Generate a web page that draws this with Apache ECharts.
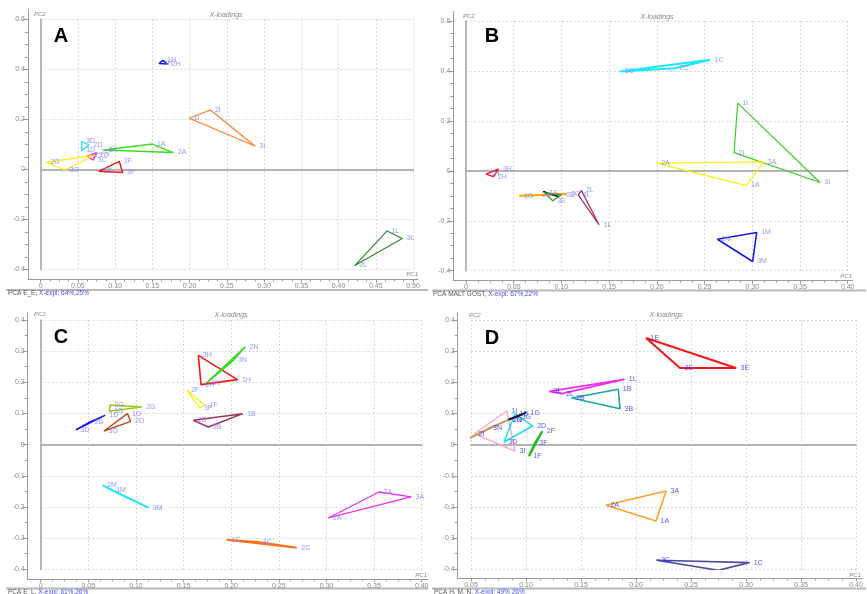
<!DOCTYPE html>
<html><head><meta charset="utf-8">
<script src="https://cdn.jsdelivr.net/npm/echarts@6/dist/echarts.min.js"></script>
<style>html,body{margin:0;padding:0;background:#fff}#c{width:867px;height:594px}</style>
</head><body><div id="c"></div><script>
// ---------------- DATA ----------------
// tick labels
const xTicksA = [0,0.05,0.10,0.15,0.20,0.25,0.30,0.35,0.40,0.45,0.50];
const xTicksB = [0,0.05,0.10,0.15,0.20,0.25,0.30,0.35,0.40];
const xTicksC = [0,0.05,0.10,0.15,0.20,0.25,0.30,0.35,0.40];
const xTicksD = [0.05,0.10,0.15,0.20,0.25,0.30,0.35,0.40];
const yTicksAB = [-0.4,-0.2,0,0.2,0.4,0.6];
const yTicksCD = [-0.4,-0.3,-0.2,-0.1,0,0.1,0.2,0.3,0.4];

// Panel A (PCA E_E) : triangles of loadings [PC1, PC2]
const aNames  = ['H','I','A','D','C','G','F','L'];
const aPoints = [
  [[0.159,0.423],[0.164,0.436],[0.170,0.421]],
  [[0.1995,0.204],[0.228,0.237],[0.2876,0.093]],
  [[0.085,0.077],[0.150,0.101],[0.178,0.067]],
  [[0.055,0.111],[0.055,0.075],[0.065,0.097]],
  [[0.0626,0.053],[0.075,0.067],[0.0707,0.037]],
  [[0.007,0.028],[0.0326,-0.003],[0.073,0.057]],
  [[0.078,-0.008],[0.1055,0.032],[0.110,-0.013]],
  [[0.465,-0.247],[0.4857,-0.277],[0.4217,-0.385]]
];
const aLabels = [
  ['3H','1H','2H'],['1I','2I','3I'],['3A','1A','2A'],['3D','1D','2D'],
  ['1C','2C','3C'],['2G','3G','1G'],['1F','2F','3F'],['1L','3L','2L']
];
const aColors = ['#1a1ae6','#ff7f27','#3ade1a','#1ee0f0','#f030f0','#ffee10','#f01818','#2a8a2a'];
const aWidths = [1.6,1.2,1.4,1.2,1.4,1.2,1.4,1.2];

// Panel B (PCA MALT GOST)
const bNames  = ['C','I','A','H','G','K','E','L','M'];
const bPoints = [
  [[0.1614,0.398],[0.2557,0.4446],[0.219,0.411]],
  [[0.2847,0.271],[0.2809,0.073],[0.371,-0.047]],
  [[0.1998,0.031],[0.3116,0.036],[0.294,-0.059]],
  [[0.021,-0.013],[0.034,0.007],[0.0286,-0.023]],
  [[0.056,-0.100],[0.1055,-0.093],[0.075,-0.098]],
  [[0.081,-0.083],[0.0968,-0.103],[0.090,-0.095]],
  [[0.0828,-0.0895],[0.0908,-0.120],[0.1003,-0.096]],
  [[0.1177,-0.096],[0.121,-0.079],[0.1394,-0.216]],
  [[0.2634,-0.274],[0.3046,-0.247],[0.3004,-0.363]]
];
const bLabels = [
  ['3C','1C','2C'],['1I','2I','3I'],['2A','3A','1A'],['1H','3H','2H'],
  ['1G','3G','2G'],['','',''],['1E','3E','2E'],['3L','2L','1L'],['2M','1M','3M']
];
const bColors = ['#1ee8f5','#3ccc2c','#ffee10','#f01818','#ffa500','#111111','#30a030','#a02860','#1a1ae6'];
const bWidths = [2,1.2,1.3,1.4,2,1.4,1.2,1.2,1.6];

// Panel C (PCA E_L)
const cNames  = ['H','N','F','B','G','O','D','M','A','C'];
const cPoints = [
  [[0.1655,0.2866],[0.1683,0.1925],[0.2065,0.2086]],
  [[0.1743,0.198],[0.2145,0.3134],[0.2023,0.2706]],
  [[0.1533,0.1765],[0.1666,0.1176],[0.1725,0.126]],
  [[0.1603,0.078],[0.2121,0.0995],[0.176,0.0567]],
  [[0.0728,0.127],[0.106,0.121],[0.0721,0.107]],
  [[0.0665,0.0439],[0.091,0.0995],[0.0945,0.0749]],
  [[0.0371,0.048],[0.0675,0.094],[0.0518,0.0727]],
  [[0.0651,-0.1305],[0.113,-0.2021],[0.0745,-0.1465]],
  [[0.302,-0.2353],[0.3552,-0.1519],[0.3888,-0.1679]],
  [[0.1953,-0.3048],[0.2688,-0.3305],[0.2285,-0.3123]]
];
const cLabels = [
  ['3H','2H','1H'],['1N','2N','3N'],['2F','3F','1F'],['2B','1B','3B'],['3G','2G','1G'],
  ['3O','1O','2O'],['3D','1D','2D'],['2M','3M','1M'],['1A','2A','3A'],['1C','2C','3C']
];
const cColors = ['#f01818','#3ad81a','#ffee10','#a03060','#99cc10','#b84a20','#1a1ae6','#1ee8f5','#f030f0','#ff7020'];
const cWidths = [1.6,1.6,1.3,1.5,1.5,1.4,1.6,1.8,1.3,2];

// Panel D (PCA H, M, N)
const dNames  = ['E','L','B','A','C','I','D','G','N','F'];
const dPoints = [
  [[0.2091,0.3422],[0.240,0.246],[0.2909,0.246]],
  [[0.1212,0.171],[0.1894,0.2096],[0.1324,0.1636]],
  [[0.1415,0.1497],[0.1839,0.1775],[0.1855,0.1155]],
  [[0.1727,-0.1947],[0.2273,-0.1487],[0.2182,-0.2449]],
  [[0.2188,-0.3711],[0.303,-0.3786],[0.2748,-0.4032]],
  [[0.053,0.035],[0.0825,0.108],[0.090,-0.0205]],
  [[0.080,0.0083],[0.090,0.0994],[0.1061,0.0597]],
  [[0.0839,0.080],[0.100,0.1026],[0.092,0.090]],
  [[0.0475,0.019],[0.0839,0.080],[0.066,0.052]],
  [[0.1148,0.0427],[0.1027,-0.0366],[0.108,0.004]]
];
const dLabels = [
  ['1E','2E','3E'],['3L','1L','2L'],['2B','1B','3B'],['2A','3A','1A'],['3C','1C','2C'],
  ['2I','1I','3I'],['3D','1D','2D'],['2G','1G','3G'],['1N','2N','3N'],['2F','1F','3F']
];
const dColors = ['#f01818','#f030f0','#20a8a8','#ffa030','#4a4aa0','#ffa8c8','#1ee0f0','#111111','#c8965a','#22bb22'];
const dWidths = [2,1.8,1.6,1.6,1.6,1.4,1.6,2,1.8,2.2];

// ---------------- LAYOUT ----------------
const panels = [
  {letter:'A', names:aNames, pts:aPoints, lbl:aLabels, col:aColors, wid:aWidths, xt:xTicksA, yt:yTicksAB,
   inner:{left:40.7, top:19.3, width:372.3, height:250}, frame:{left:28, top:9.5, right:418, bottom:279.5},
   xMinorStep:0.0125, yMinorStep:0.05, yDec:1, yLine:true, lblColor:'#7a7aff',
   foot:['PCA E_E, ','X-expl: 64%,25%'], footXY:[8,293.5], sepY:290, sepX:[6,428],
   pc2:[34,14], title:[226,15], pc1:[418,274], letterXY:[61,36]},
  {letter:'B', names:bNames, pts:bPoints, lbl:bLabels, col:bColors, wid:bWidths, xt:xTicksB, yt:yTicksAB,
   inner:{left:466, top:21, width:381.7, height:249.7}, frame:{left:453.3, top:11.5, right:852.7, bottom:280.7},
   xMinorStep:0.0125, yMinorStep:0.05, yDec:1, yLine:true, lblColor:'#7a7aff',
   foot:['PCA MALT GOST, ','X-expl: 67%,22%'], footXY:[433,294.5], sepY:290.5, sepX:[432,866],
   pc2:[463,16], title:[657,17], pc1:[852,276], letterXY:[492,36]},
  {letter:'C', names:cNames, pts:cPoints, lbl:cLabels, col:cColors, wid:cWidths, xt:xTicksC, yt:yTicksCD,
   inner:{left:40.7, top:320, width:381, height:249.3}, frame:{left:27.7, top:313, right:428, bottom:579.3},
   xMinorStep:0.0125, yMinorStep:0.05, yDec:1, yLine:true, lblColor:'#7a7aff',
   foot:['PCA E_L, ','X-expl: 61%,26%'], footXY:[8,592.5], sepY:588.5, sepX:[6,428],
   pc2:[34,314], title:[231,315], pc1:[427,575], letterXY:[61,337]},
  {letter:'D', names:dNames, pts:dPoints, lbl:dLabels, col:dColors, wid:dWidths, xt:xTicksD, yt:yTicksCD,
   inner:{left:471, top:320, width:385, height:249.3}, frame:{left:457.7, top:313, right:862, bottom:578.3},
   xMinorStep:0.0125, yMinorStep:0.05, yDec:1, yLine:false, lblColor:'#2a2aff',
   foot:['PCA H, M, N, ','X-expl: 49%,26%'], footXY:[434,592.5], sepY:588.5, sepX:[432,866],
   pc2:[469,315], title:[666,315], pc1:[861,575], letterXY:[492,338]}
];

const grid=[], xAxis=[], yAxis=[], series=[], graphic=[];
const axisGray = '#9a9a9a', labelGray = '#8a8a8a';
function rng(a,b,s){const out=[];for(let k=0;;k++){const v=Math.round((a+k*s)*1e6)/1e6; if(v>b+1e-9)break; out.push(v);}return out;}
function fmtX(v){return Math.abs(v)<1e-9?'0':v.toFixed(2);}

panels.forEach((p,i)=>{
  const gi=2*i, gf=2*i+1;
  const I=p.inner, F=p.frame;
  const x0=p.xt[0], x1=p.xt[p.xt.length-1], y0=p.yt[0], y1=p.yt[p.yt.length-1];
  grid.push({left:I.left, top:I.top, width:I.width, height:I.height});
  grid.push({left:F.left, top:F.top, width:F.right-F.left, height:F.bottom-F.top});
  const xs=(x1-x0)/I.width, ys=(y1-y0)/I.height;
  const fxMin=x0-(I.left-F.left)*xs, fxMax=x1+(F.right-(I.left+I.width))*xs;
  const fyMax=y1+(I.top-F.top)*ys, fyMin=y0-(F.bottom-(I.top+I.height))*ys;
  const xi=xAxis.length, yi=yAxis.length;
  xAxis.push({type:'value', gridIndex:gi, min:x0, max:x1, interval:p.xt[1]-p.xt[0],
    axisLabel:{show:false}, axisTick:{show:false},
    axisLine:{show:true, onZero:true, lineStyle:{color:'#b4b4b4', width:2}},
    splitLine:{show:true, lineStyle:{color:'#cdcdcd', width:1, type:[1.5,2.5]}}});
  yAxis.push({type:'value', gridIndex:gi, min:y0, max:y1, interval:p.yt[1]-p.yt[0],
    axisLabel:{show:false}, axisTick:{show:false},
    axisLine:{show:p.yLine, onZero:false, lineStyle:{color:'#a8a8a8', width:1.6}},
    splitLine:{show:true, lineStyle:{color:'#cdcdcd', width:1, type:[1.5,2.5]}}});
  xAxis.push({type:'value', gridIndex:gf, min:fxMin, max:fxMax, position:'bottom',
    axisLine:{show:true, onZero:false, lineStyle:{color:axisGray, width:1}},
    axisTick:{show:true, customValues:p.xt, length:3, lineStyle:{color:axisGray}},
    axisLabel:{show:true, customValues:p.xt, formatter:fmtX, fontSize:7, color:labelGray, margin:3, fontFamily:'Liberation Sans'},
    splitLine:{show:false}});
  yAxis.push({type:'value', gridIndex:gf, min:fyMin, max:fyMax, position:'left',
    axisLine:{show:true, onZero:false, lineStyle:{color:axisGray, width:1}},
    axisTick:{show:true, customValues:p.yt, length:5, lineStyle:{color:axisGray}},
    axisLabel:{show:true, customValues:p.yt, formatter:v=>Math.abs(v)<1e-9?'0':v.toFixed(p.yDec), fontSize:7, color:labelGray, margin:3, fontFamily:'Liberation Sans'},
    splitLine:{show:false}});
  xAxis.push({type:'value', gridIndex:gf, min:fxMin, max:fxMax, position:'bottom',
    axisLine:{show:false, onZero:false}, axisLabel:{show:false},
    axisTick:{show:true, customValues:rng(x0,x1,p.xMinorStep), length:2, lineStyle:{color:axisGray}},
    splitLine:{show:false}});
  yAxis.push({type:'value', gridIndex:gf, min:fyMin, max:fyMax, position:'left',
    axisLine:{show:false, onZero:false}, axisLabel:{show:false},
    axisTick:{show:true, customValues:rng(y0,y1,p.yMinorStep), length:3, lineStyle:{color:axisGray}},
    splitLine:{show:false}});
  p.pts.forEach((tri,k)=>{
    series.push({type:'line', name:p.letter+p.names[k], xAxisIndex:xi, yAxisIndex:yi,
      data:tri.concat([tri[0]]), symbol:'none', silent:true, animation:false,
      lineStyle:{color:p.col[k], width:p.wid[k]}, z:3});
    series.push({type:'scatter', name:p.letter+p.names[k]+'_lbl', xAxisIndex:xi, yAxisIndex:yi,
      data:tri.map((pt,j)=>({value:pt, name:p.lbl[k][j]})), symbolSize:1, silent:true, animation:false,
      itemStyle:{color:p.col[k]}, z:4,
      label:{show:true, position:'right', distance:4, formatter:d=>d.name, fontSize:7, color:p.lblColor, fontFamily:'Liberation Sans'}});
  });
  graphic.push({type:'text', style:{text:'PC2', x:p.pc2[0], y:p.pc2[1], font:'italic 6px Liberation Sans', fill:'#888', textAlign:'left', textVerticalAlign:'middle'}});
  graphic.push({type:'text', style:{text:'X-loadings', x:p.title[0], y:p.title[1], font:'italic 7px Liberation Sans', fill:'#888', textAlign:'center', textVerticalAlign:'middle'}});
  graphic.push({type:'text', style:{text:'PC1', x:p.pc1[0], y:p.pc1[1], font:'italic 6px Liberation Sans', fill:'#888', textAlign:'right', textVerticalAlign:'middle'}});
  graphic.push({type:'text', style:{text:p.letter, x:p.letterXY[0], y:p.letterXY[1], font:'bold 20px Liberation Sans', fill:'#000', textAlign:'center', textVerticalAlign:'middle'}});
  graphic.push({type:'rect', shape:{x:p.sepX[0], y:p.sepY-1, width:p.sepX[1]-p.sepX[0], height:2}, style:{fill:'#b8b8b8'}});
  graphic.push({type:'text', style:{text:'{a|'+p.foot[0]+'}{b|'+p.foot[1]+'}', x:p.footXY[0], y:p.footXY[1], textVerticalAlign:'middle',
    rich:{a:{fill:'#555', color:'#555', fontSize:6.5, fontFamily:'Liberation Sans'}, b:{fill:'#4a4aff', color:'#4a4aff', fontSize:6.5, fontFamily:'Liberation Sans'}}}});
});

const chart = echarts.init(document.getElementById('c'), null, {renderer:'canvas'});
chart.setOption({backgroundColor:'#ffffff', animation:false, grid, xAxis, yAxis, series, graphic});
</script></body></html>
